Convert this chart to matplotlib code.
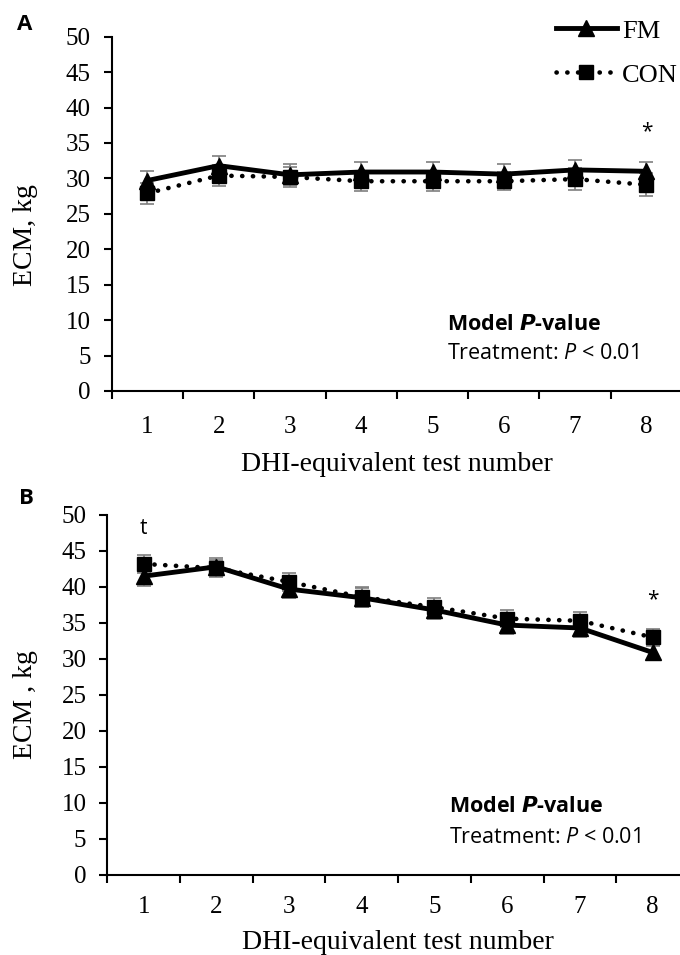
import matplotlib
matplotlib.use("Agg")
import matplotlib.pyplot as plt
import numpy as np

# test numbers 1..8
tests = np.arange(1, 9)
tick_labels = ["1", "2", "3", "4", "5", "6", "7", "8"]

# panel A (ECM, kg)
a_fm = [29.7, 31.8, 30.5, 30.9, 30.9, 30.6, 31.2, 31.0]
a_fm_se = [1.4, 1.4, 1.5, 1.4, 1.4, 1.4, 1.4, 1.3]
a_con = [27.9, 30.4, 30.2, 29.6, 29.6, 29.6, 29.9, 29.1]
a_con_se = [1.5, 1.5, 1.4, 1.4, 1.4, 1.3, 1.5, 1.6]

# panel B (ECM, kg)
b_fm = [41.5, 42.8, 39.7, 38.5, 36.8, 34.7, 34.3, 30.9]
b_fm_se = [1.3, 1.2, 1.2, 1.3, 1.2, 1.2, 1.2, 1.0]
b_con = [43.2, 42.6, 40.7, 38.6, 37.2, 35.6, 35.3, 33.0]
b_con_se = [1.3, 1.2, 1.3, 1.4, 1.2, 1.2, 1.2, 1.2]

SERIF = "Liberation Serif"
SANS = "Open Sans"

plt.rcParams.update({"mathtext.fontset": "custom", "mathtext.it": "Open Sans:italic",
                     "mathtext.rm": "Open Sans", "mathtext.bf": "Open Sans:bold:italic"})

fig = plt.figure(figsize=(6.8, 9.55), dpi=100)


def panel(rect, fm, fm_se, con, con_se, marks, tpad, lpad, legend=False):
    ax = fig.add_axes(rect)
    ax.errorbar(tests, fm, yerr=fm_se, fmt="none", ecolor="#7f7f7f",
                elinewidth=1.2, capsize=5, capthick=1.2, zorder=2)
    ax.errorbar(tests, con, yerr=con_se, fmt="none", ecolor="#7f7f7f",
                elinewidth=1.2, capsize=5, capthick=1.2, zorder=2)
    ax.plot(tests, con, color="black", lw=3.3, linestyle=(0, (0.05, 2.3)),
            dash_capstyle="round", marker="s", markersize=9.5, label="CON", zorder=3)
    ax.plot(tests, fm, color="black", lw=3.5, marker="^", markersize=11,
            label="FM", zorder=4)
    ax.set_xlim(0.5, 8.5)
    ax.set_ylim(0, 50)
    ax.set_yticks(np.arange(0, 51, 5))
    ax.set_xticks(np.arange(0.5, 8.6, 1))
    ax.set_xticklabels([])
    ax.set_xticks(tests, minor=True)
    ax.set_xticklabels(tick_labels, minor=True)
    for s in ["top", "right"]:
        ax.spines[s].set_visible(False)
    for s in ["left", "bottom"]:
        ax.spines[s].set_linewidth(1.5)
    ax.tick_params(axis="both", which="major", direction="out", length=6,
                   width=1.5, labelsize=18)
    ax.tick_params(axis="y", pad=9)
    ax.tick_params(axis="x", which="minor", length=0, pad=tpad, labelsize=18)
    for lab in ax.get_yticklabels() + ax.get_xticklabels(minor=True):
        lab.set_fontfamily(SERIF)
    ax.set_xlabel("DHI-equivalent test number", fontsize=20, family=SERIF, labelpad=lpad)
    ax.text(0.588, 0.189, r"Model $\boldsymbol{P}$-value", transform=ax.transAxes,
            fontsize=15.5, family=SANS, fontweight="bold", va="center")
    ax.text(0.588, 0.105, "Treatment: $P$ < 0.01", transform=ax.transAxes,
            fontsize=15.5, family=SANS, va="center")
    for x, y, s in marks:
        ax.text(x, y, s, fontsize=15, family=SANS, ha="center", va="center")
    if legend:
        h, l = ax.get_legend_handles_labels()
        fig.legend(h[::-1], l[::-1], loc="upper left", bbox_to_anchor=(0.8176, 0.980),
                   frameon=False, handlelength=2.31, handletextpad=0.2,
                   borderpad=0, borderaxespad=0,
                   labelspacing=0.78, prop={"family": SERIF, "size": 19})
    return ax


panel([0.1643, 0.5906, 0.8387, 0.371], a_fm, a_fm_se, a_con, a_con_se,
      [(8, 36.6, "*")], tpad=18.3, lpad=10, legend=True)
panel([0.1578, 0.0838, 0.8554, 0.377], b_fm, b_fm_se, b_con, b_con_se,
      [(1, 48.1, "t"), (8, 38.2, "*")], tpad=15.5, lpad=8)

fig.text(26 / 680, 1 - 235 / 955, "ECM, kg", fontsize=20, family=SERIF,
         rotation=90, ha="center", va="center")
fig.text(26 / 680, 1 - 705 / 955, "ECM , kg", fontsize=20, family=SERIF,
         rotation=90, ha="center", va="center")

fig.text(0.0368, 0.974, "A", fontsize=16, family=SANS, fontweight="bold", ha="center", va="center")
fig.text(0.039, 0.4785, "B", fontsize=16, family=SANS, fontweight="bold", ha="center", va="center")

fig.savefig("out.png", dpi=100)
